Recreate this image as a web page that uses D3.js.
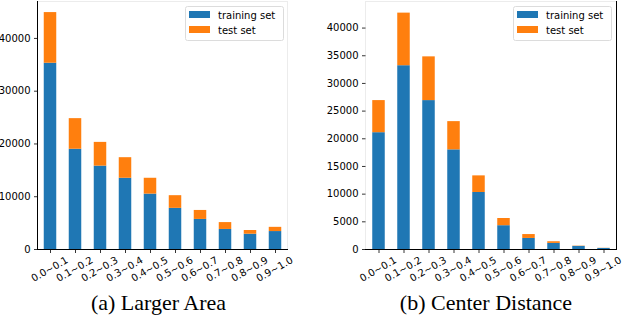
<!DOCTYPE html>
<html>
<head>
<meta charset="utf-8">
<script src="https://cdn.jsdelivr.net/npm/d3@7/dist/d3.min.js"></script>
<style>
    body { margin: 0; background: #fff; }
    svg { display: block; }
    .tick-label { font-family: 'DejaVu Sans', sans-serif; font-size: 10px; fill: #000; }
    .caption { font-family: 'Liberation Serif', 'Times New Roman', serif; font-size: 22px; fill: #000; }
</style>
</head>
<body>
<div id="chart"></div>
<script>
var categories = ['0.0~0.1', '0.1~0.2', '0.2~0.3', '0.3~0.4', '0.4~0.5',
    '0.5~0.6', '0.6~0.7', '0.7~0.8', '0.8~0.9', '0.9~1.0'];

// (a) larger area
var areaTrain = [35300, 19000, 15800, 13500, 10500, 7800, 5700, 3800, 2900, 3400];
var areaTest = [9600, 5800, 4500, 3900, 3000, 2400, 1700, 1300, 700, 800];
var areaTicks = [0, 10000, 20000, 30000, 40000];

// (b) center distance
var distTrain = [21100, 33200, 26900, 18000, 10300, 4300, 2000, 1100, 560, 190];
var distTest = [5800, 9500, 7900, 5100, 3000, 1300, 700, 300, 50, 30];
var distTicks = [0, 5000, 10000, 15000, 20000, 25000, 30000, 35000, 40000];

var seriesNames = ['training set', 'test set'];
var colors = ['#1f77b4', '#ff7f0e'];

var W = 622, H = 318;
var svg = d3.select('#chart').append('svg')
    .attr('width', W)
    .attr('height', H);

var drawPanel = function(opts) {
    var g = svg.append('g');
    var x = d3.scaleLinear().domain(opts.xDomain).range([opts.left, opts.right]);
    var y = d3.scaleLinear().domain([0, opts.yMax]).range([opts.bottom, opts.top]);
    var barW = x(0.5) - x(0);

    // light spines first
    var spine = function(x1, y1, x2, y2, color) {
        g.append('line')
            .attr('x1', x1).attr('y1', y1)
            .attr('x2', x2).attr('y2', y2)
            .attr('stroke', color)
            .attr('stroke-width', 1)
            .attr('shape-rendering', 'crispEdges');
    };

    // bars
    categories.forEach(function(c, i) {
        var cx = x(i);
        g.append('rect')
            .attr('x', cx - barW / 2)
            .attr('width', barW)
            .attr('y', y(opts.train[i]))
            .attr('height', y(0) - y(opts.train[i]))
            .attr('fill', colors[0]);
        g.append('rect')
            .attr('x', cx - barW / 2)
            .attr('width', barW)
            .attr('y', y(opts.train[i] + opts.test[i]))
            .attr('height', y(opts.train[i]) - y(opts.train[i] + opts.test[i]))
            .attr('fill', colors[1]);
    });

    spine(opts.left, opts.top + 0.5, opts.right, opts.top + 0.5, '#ececec');
    spine(opts.left + 0.5, opts.top, opts.left + 0.5, opts.bottom, opts.leftColor);
    spine(opts.right + 0.5, opts.top, opts.right + 0.5, opts.bottom + 1, opts.rightColor);
    spine(opts.left, opts.bottom + 0.5, opts.right + 1, opts.bottom + 0.5, '#000');

    // y axis
    var yAxis = d3.axisLeft(y)
        .tickValues(opts.yTicks)
        .tickSize(3.5)
        .tickPadding(3.5)
        .tickFormat(d3.format('d'));
    var ya = g.append('g')
        .attr('transform', 'translate(' + (opts.left + 0.5) + ',0)')
        .call(yAxis);
    ya.select('.domain').remove();
    ya.selectAll('text').attr('class', 'tick-label').attr('font-size', null).attr('font-family', null);
    ya.selectAll('line').attr('stroke', '#000').attr('stroke-width', 0.8);

    // x axis
    var xAxis = d3.axisBottom(x)
        .tickValues(d3.range(categories.length))
        .tickSize(3.5)
        .tickFormat(function(d) { return categories[d]; });
    var xa = g.append('g')
        .attr('transform', 'translate(0,' + (opts.bottom + 0.5) + ')')
        .call(xAxis);
    xa.select('.domain').remove();
    xa.selectAll('line').attr('stroke', '#000').attr('stroke-width', 0.8);
    xa.selectAll('text')
        .attr('class', 'tick-label')
        .attr('font-size', null).attr('font-family', null)
        .attr('y', null).attr('dy', null)
        .attr('text-anchor', 'middle')
        .attr('dominant-baseline', 'central')
        .attr('transform', 'translate(-1,19.5) rotate(-30)');

    // legend
    var lg = g.append('g').attr('transform', 'translate(' + opts.legendX + ',' + opts.legendY + ')');
    lg.append('rect')
        .attr('x', 0.5).attr('y', 0.5)
        .attr('width', 98).attr('height', 34)
        .attr('rx', 2)
        .attr('fill', '#fff')
        .attr('stroke', '#dcdcdc')
        .attr('stroke-width', 1);
    seriesNames.forEach(function(name, i) {
        lg.append('rect')
            .attr('x', 4).attr('y', 5 + i * 15)
            .attr('width', 21).attr('height', 7)
            .attr('fill', colors[i]);
        lg.append('text')
            .attr('class', 'tick-label')
            .attr('x', 33).attr('y', 12.5 + i * 15)
            .text(name);
    });

    // caption
    svg.append('text')
        .attr('class', 'caption')
        .attr('x', opts.captionX)
        .attr('y', 310)
        .attr('text-anchor', 'middle')
        .text(opts.caption);
};

drawPanel({
    left: 37, right: 287, top: 1, bottom: 249,
    xDomain: [-0.52, 9.48], yMax: 47000,
    train: areaTrain, test: areaTest, yTicks: areaTicks,
    leftColor: '#000', rightColor: '#ececec',
    legendX: 185, legendY: 6,
    captionX: 158.5, caption: '(a) Larger Area'
});

drawPanel({
    left: 365, right: 616, top: 1, bottom: 249,
    xDomain: [-0.54, 9.5], yMax: 44800,
    train: distTrain, test: distTest, yTicks: distTicks,
    leftColor: '#ececec', rightColor: '#000',
    legendX: 513, legendY: 6,
    captionX: 486, caption: '(b) Center Distance'
});
</script>
</body>
</html>
